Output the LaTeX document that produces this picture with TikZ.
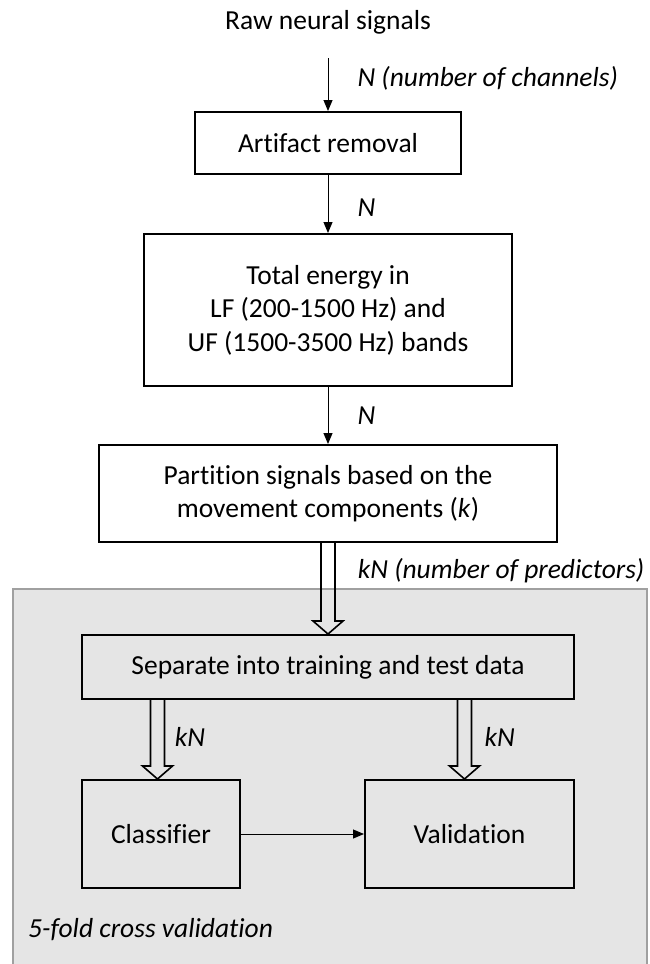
\documentclass[tikz,border=0pt]{standalone}
\usepackage{fontspec}
\setmainfont{Carlito}[Ligatures={NoCommon, NoContextual}]
\usepackage{xcolor}
\usetikzlibrary{arrows.meta, positioning, calc}
\definecolor{panelgray}{HTML}{E5E5E5}
\definecolor{panelline}{HTML}{A0A0A0}
\newcommand{\figfont}{\fontsize{27.5pt}{33.5pt}\selectfont}
\tikzstyle{block} = [rectangle, draw, line width=2pt, align=center,
    inner sep=0pt, font=\figfont]
\tikzstyle{txt} = [inner sep=0pt, font=\figfont]
\tikzstyle{lbl} = [inner sep=0pt, font=\figfont\itshape]
\tikzstyle{arrow} = [-{Triangle[length=11pt, width=9pt]}, line width=1pt]
\tikzstyle{fat} = [draw, line width=1.6pt, line join=miter]
\tikzstyle{panel} = [fill=panelgray, draw=panelline, line width=2pt]
% hollow arrow: from, to, label options, label text
\newcommand{\fatarrow}[4]{%
  \draw[fat] let \p1=(#1), \p2=(#2) in
    (\x2-7pt,\y1) -- (\x2-7pt,\y2+13pt) -- (\x2-15pt,\y2+13pt) -- (\x2,\y2)
    -- (\x2+15pt,\y2+13pt) -- (\x2+7pt,\y2+13pt)
    -- node[lbl, anchor=west, #3] {#4} (\x2+7pt,\y1);}

\begin{document}
\begin{tikzpicture}
    \useasboundingbox (0,0) rectangle (649pt,-964pt);
    % Cross validation panel
    \draw[panel] (13pt,-589pt) rectangle (647pt,-990pt);

    % Pipeline
    \node[txt] (raw) at (328pt,-22pt) {Raw neural signals};
    \coordinate (rawout) at (328pt,-58pt);
    \node[block, below=53pt of rawout, minimum width=266pt, minimum height=62pt] (artifact) {Artifact removal};
    \node[block, below=58pt of artifact, minimum width=368pt, minimum height=152pt] (energy) {Total energy in\\LF (200-1500 Hz) and\\UF (1500-3500 Hz) bands};
    \node[block, below=57pt of energy, minimum width=458pt, minimum height=97pt] (partition) {Partition signals based on the\\movement components (\textit{k})};
    \node[block, below=91pt of partition, minimum width=492pt, minimum height=64pt] (separate) {Separate into training and test data};
    \node[block, below right=79pt and 0pt of separate.south west, minimum width=158pt, minimum height=108pt] (classifier) {Classifier};
    \node[block, below left=79pt and 0pt of separate.south east, minimum width=209pt, minimum height=108pt] (validation) {Validation};

    \draw[arrow] (rawout) -- node[lbl, pos=0.38, anchor=west, xshift=29pt] {N (number of channels)} (artifact);
    \draw[arrow] (artifact) -- node[lbl, pos=0.57, anchor=west, xshift=29pt] {N} (energy);
    \draw[arrow] (energy) -- node[lbl, pos=0.5, anchor=west, xshift=29pt] {N} (partition);
    \draw[arrow] (classifier) -- (validation);

    \fatarrow{partition.south}{separate.north}{pos=0.65, xshift=22pt}{kN (number of predictors)}
    \fatarrow{separate.south}{[xshift=-3.5pt]classifier.north}{pos=0.44, xshift=9.6pt}{kN}
    \fatarrow{separate.south}{[xshift=-5pt]validation.north}{pos=0.44, xshift=12.4pt}{kN}

    % Panel caption
    \node[lbl, anchor=west] (cv) at (28pt,-930pt) {5-fold cross validation};
\end{tikzpicture}
\end{document}
